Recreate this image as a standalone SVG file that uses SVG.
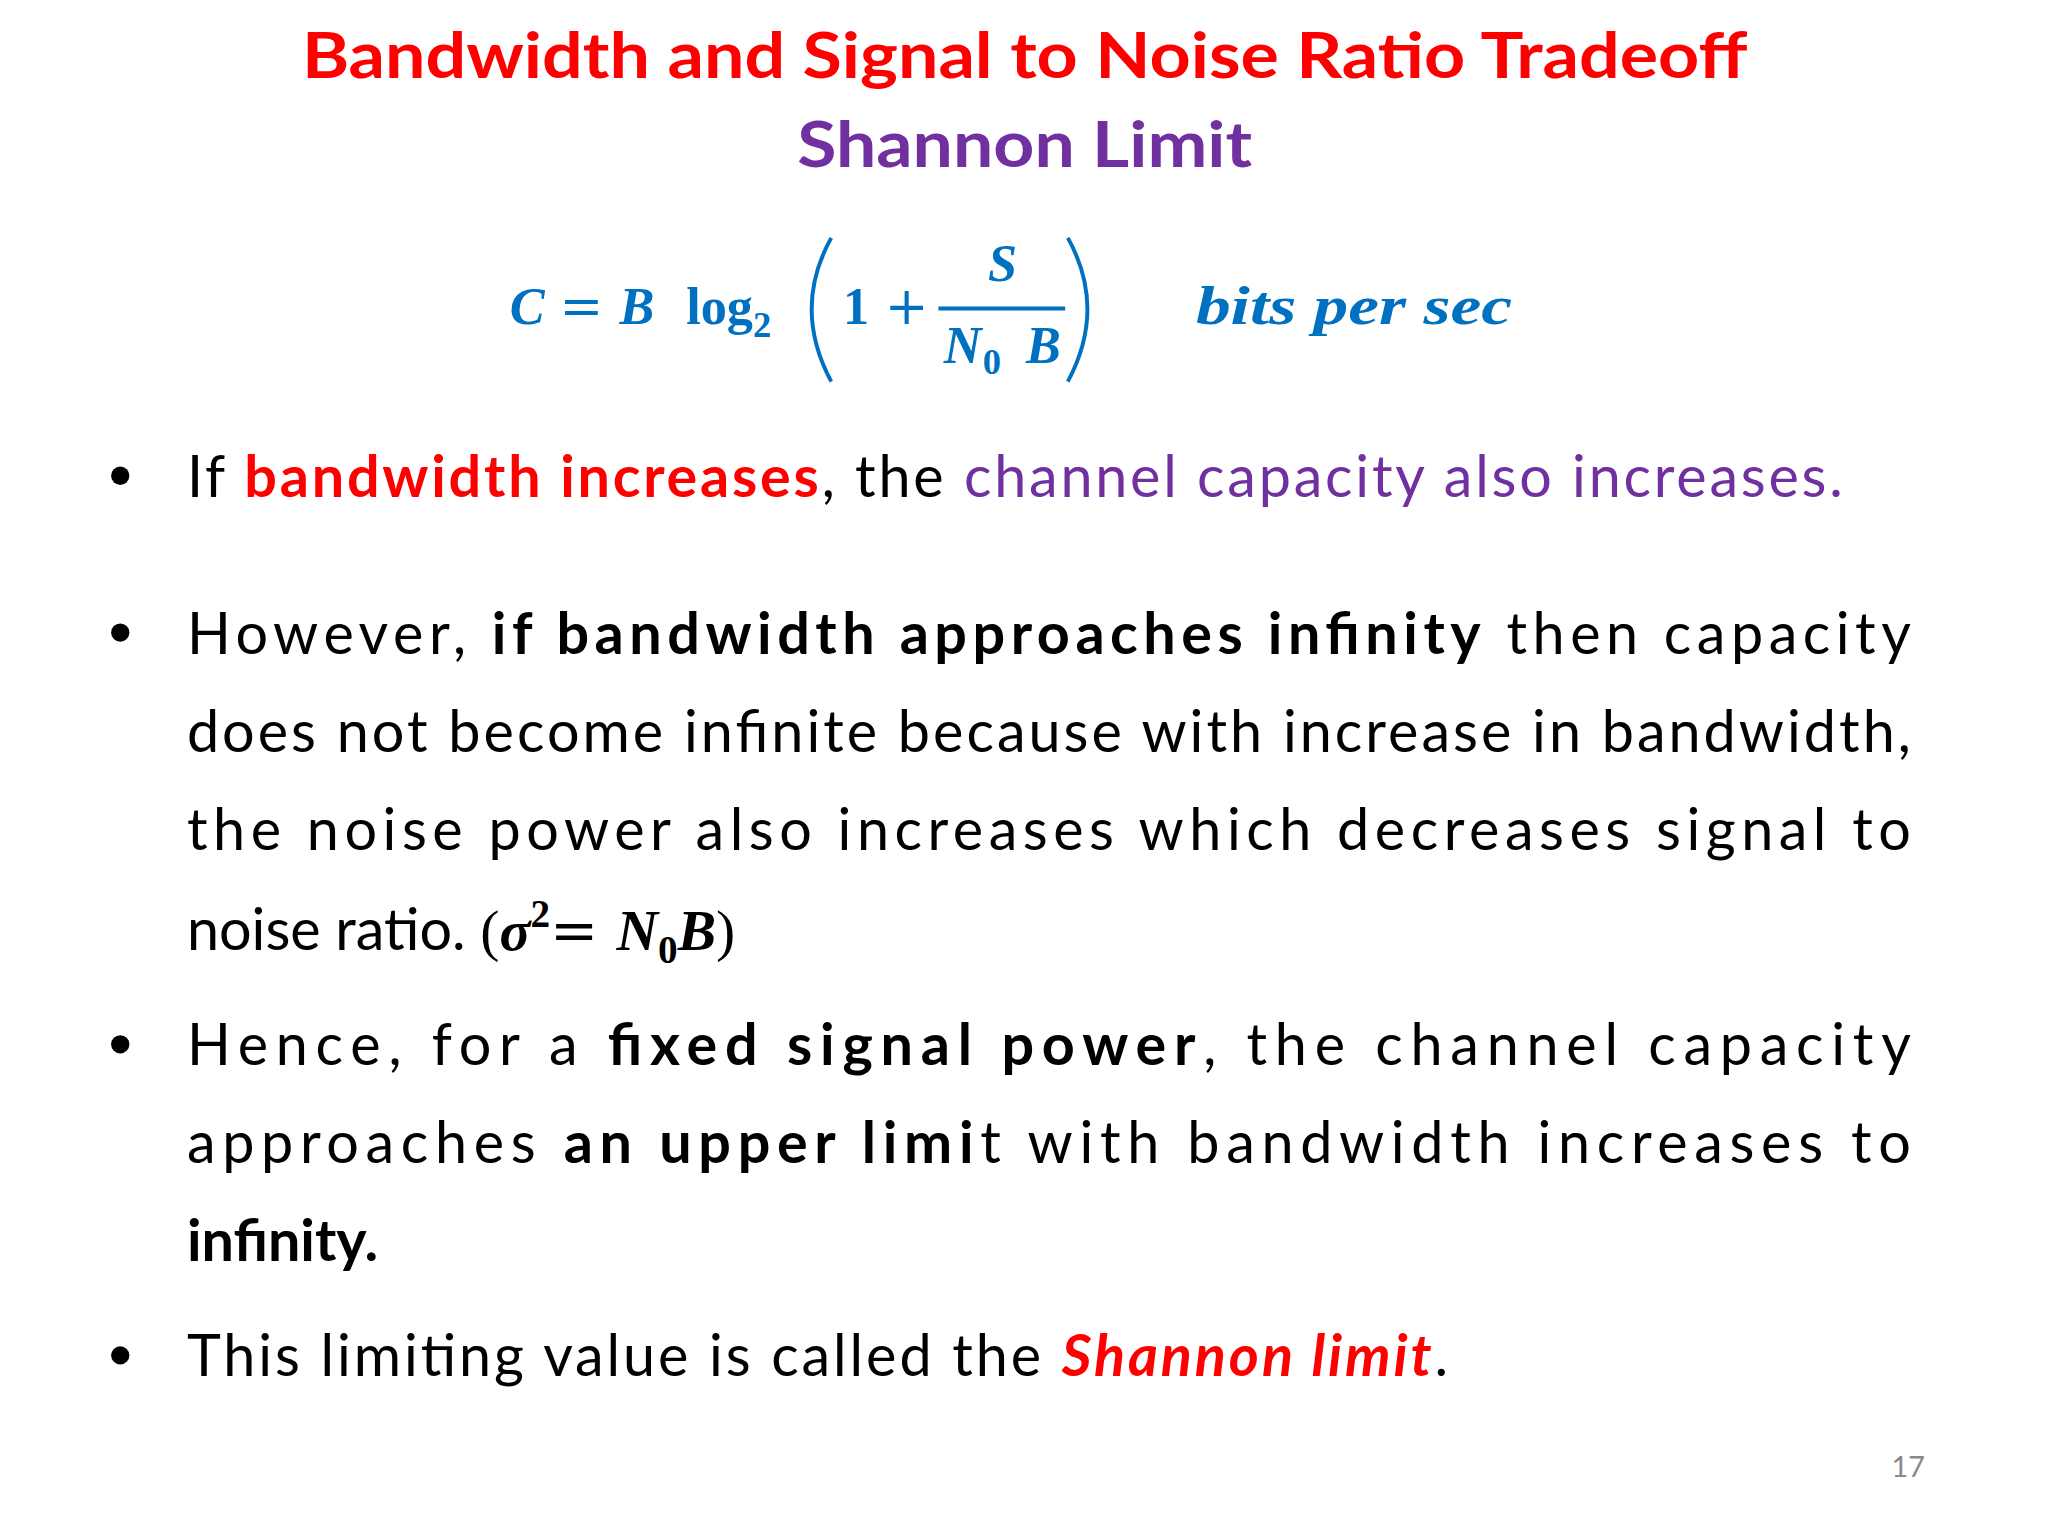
<svg xmlns="http://www.w3.org/2000/svg" width="2048" height="1536" viewBox="0 0 2048 1536">
<style>
.t{font-family:Lato,"Open Sans",sans-serif;font-size:44px;fill:#000}
.m{font-family:"Liberation Serif","DejaVu Serif",serif;font-weight:bold;font-style:italic;fill:#0070C0}
.b{font-weight:bold}
</style>
<rect width="2048" height="1536" fill="#fff"/>
<g transform="scale(1.307)">
<g id="title">
<text x="784" y="60" text-anchor="middle" font-family="Lato,'Open Sans',sans-serif" font-weight="bold" font-size="48" fill="#FF0000" textLength="1106" lengthAdjust="spacingAndGlyphs">Bandwidth and Signal to Noise Ratio Tradeoff</text>
<text x="784" y="128" text-anchor="middle" font-family="Lato,'Open Sans',sans-serif" font-weight="bold" font-size="48" fill="#7030A0" textLength="348" lengthAdjust="spacingAndGlyphs">Shannon Limit</text>
</g>
<g id="formula">
<text class="m" x="390" y="248" font-size="40">C</text>
<text x="428" y="248" font-size="40" font-family="'DejaVu Serif',serif" fill="#0070C0">=</text>
<text class="m" x="474" y="248" font-size="40">B</text>
<text x="525" y="248" font-size="40" font-family="'Liberation Serif',serif" font-weight="bold" fill="#0070C0">log<tspan font-size="28" dy="10">2</tspan></text>
<path d="M636,182 Q606,236 636,292" fill="none" stroke="#0070C0" stroke-width="3"/>
<text x="645" y="248" font-size="40" font-family="'Liberation Serif',serif" font-weight="bold" fill="#0070C0">1</text>
<text x="677" y="248" font-size="40" font-family="'DejaVu Serif',serif" fill="#0070C0">+</text>
<line x1="718" y1="236" x2="815" y2="236" stroke="#0070C0" stroke-width="3"/>
<text class="m" x="767" y="215" font-size="40" text-anchor="middle">S</text>
<text class="m" x="722" y="278" font-size="40">N</text>
<text x="752" y="286" font-size="28" font-family="'Liberation Serif',serif" font-weight="bold" fill="#0070C0">0</text>
<text class="m" x="785" y="278" font-size="40">B</text>
<path d="M817,182 Q847,236 817,292" fill="none" stroke="#0070C0" stroke-width="3"/>
<text class="m" x="915" y="248" font-size="42" textLength="242" lengthAdjust="spacingAndGlyphs">bits per sec</text>
</g>
<g id="bullets">
<g fill="#000"><circle cx="92" cy="364" r="7"/><circle cx="92" cy="484" r="7"/><circle cx="92" cy="799" r="7"/><circle cx="92" cy="1037" r="7"/></g>
<text class="t" x="143" y="380" textLength="1267" lengthAdjust="spacing">If <tspan class="b" fill="#FF0000">bandwidth increases</tspan>, the <tspan fill="#7030A0">channel capacity also increases.</tspan></text>
<text class="t" x="143" y="500" textLength="1319" lengthAdjust="spacing">However, <tspan class="b">if bandwidth approaches infinity</tspan> then capacity</text>
<text class="t" x="143" y="575" textLength="1319" lengthAdjust="spacing">does not become infinite because with increase in bandwidth,</text>
<text class="t" x="143" y="650" textLength="1319" lengthAdjust="spacing">the noise power also increases which decreases signal to</text>
<text class="t" x="143" y="727">noise ratio. <tspan font-family="'Liberation Serif',serif">(</tspan><tspan font-family="'Liberation Serif',serif" font-weight="bold" font-style="italic">σ</tspan><tspan font-family="'Liberation Serif',serif" font-weight="bold" font-size="30" dy="-18">2</tspan><tspan font-family="'DejaVu Serif',serif" dy="18">= </tspan><tspan font-family="'Liberation Serif',serif" font-weight="bold" font-style="italic">N</tspan><tspan font-family="'Liberation Serif',serif" font-weight="bold" font-size="30" dy="10">0</tspan><tspan font-family="'Liberation Serif',serif" font-weight="bold" font-style="italic" dy="-10">B</tspan><tspan font-family="'Liberation Serif',serif">)</tspan></text>
<text class="t" x="143" y="815" textLength="1319" lengthAdjust="spacing">Hence, for a <tspan class="b">fixed signal power</tspan>, the channel capacity</text>
<text class="t" x="143" y="890" textLength="1319" lengthAdjust="spacing">approaches <tspan class="b">an upper limi</tspan>t with bandwidth increases to</text>
<text class="t b" x="143" y="965">infinity.</text>
<text class="t" x="143" y="1053" textLength="965" lengthAdjust="spacing">This limiting value is called the <tspan class="b" font-style="italic" fill="#FF0000">Shannon limit</tspan>.</text>
</g>
<text x="1460" y="1130" text-anchor="middle" font-family="Lato,sans-serif" font-size="22" fill="#888">17</text>
</g>
</svg>
